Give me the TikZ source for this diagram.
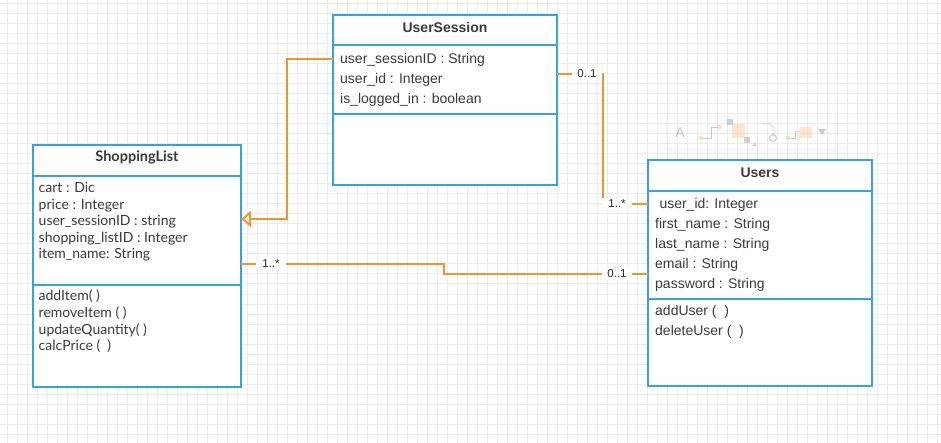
\documentclass[tikz,border=0pt]{standalone}
\usepackage{fontspec}
\setmainfont{Liberation Sans}
\newfontfamily\latof{Lato}
\usetikzlibrary{arrows.meta}
\definecolor{umlblue}{HTML}{36A2DF}
\definecolor{umlorange}{HTML}{F5922F}
\definecolor{txt}{HTML}{3A3A3A}
\definecolor{gridc}{HTML}{EBEBEB}
\tikzset{
  classbox/.style={draw=umlblue, line width=2pt, fill=white, rectangle, outer sep=0pt, inner sep=0pt, anchor=north west},
  sepline/.style={draw=umlblue, line width=2pt},
  ctitle/.style={font=\fontsize{14}{16}\selectfont\bfseries, text=txt, inner sep=0pt},
  ltitle/.style={font=\latof\fontsize{14.5}{16}\selectfont\bfseries, text=txt, inner sep=0pt},
  attr/.style={font=\fontsize{14}{16}\selectfont, text=txt, anchor=west, inner sep=0pt, text height=10pt, text depth=3pt},
  lattr/.style={font=\latof\fontsize{14}{16}\selectfont, text=txt, anchor=west, inner sep=0pt, text height=10pt, text depth=3pt},
  assoc/.style={draw=umlorange, line width=2pt},
  mult/.style={font=\fontsize{11.5}{12}\selectfont, text=black!85, fill=white, minimum width=30pt, inner sep=0pt, minimum height=12pt},
  faint/.style={opacity=0.5}
}
\begin{document}
\begin{tikzpicture}[x=1pt,y=-1pt]
\useasboundingbox (0,0) rectangle (941,443);
\fill[white] (0,0) rectangle (941,443);
% grid
\foreach \i in {0,...,93} \draw[gridc, line width=1pt] (7.3+10*\i,0) -- (7.3+10*\i,443);
\foreach \j in {0,...,43} \draw[gridc, line width=1pt] (0,4+10*\j) -- (941,4+10*\j);

% faint floating toolbar
\begin{scope}[faint]
  \draw[black!15, line width=0.8pt, rounded corners=2pt] (666,117) rectangle (836,150);
  \node[text=black!45, font=\fontsize{14}{16}\selectfont, inner sep=0pt] (tbA) at (680,133) {A};
  \fill[umlorange!60] (699,136.5) rectangle (703,140.5);
  \draw[black!40, line width=0.8pt] (703,138.5) -- (711,138.5) -- (711,127) -- (717,127);
  \fill[umlorange!60] (717,125) rectangle (721,129);
  \fill[black!35] (727,119) rectangle (733,125);
  \fill[umlorange!45] (731.7,124) rectangle (745,138.3);
  \fill[black!35] (744,137) rectangle (750,143);
  \fill[black!35] (752,146) -- (756,146) -- (756,142) -- cycle;
  \draw[black!30, line width=0.8pt] (762,124) -- (770,124) -- (774,128) -- (774,139);
  \draw[black!40, line width=1pt] (773,138) circle (3.5);
  \fill[umlorange!60] (786,136) rectangle (790,140);
  \draw[black!40, line width=0.8pt] (790,138) -- (795,138) -- (795,131) -- (799,131);
  \fill[umlorange!45] (799,126.7) rectangle (812,138);
  \fill[black!40] (818,129) -- (826,129) -- (822,135) -- cycle;
\end{scope}

% UserSession
\node[classbox, minimum width=224, minimum height=170] (us) at (333,15) {};
\draw[sepline] (us.west |- 0,45) -- (us.east |- 0,45);
\draw[sepline] (us.west |- 0,114) -- (us.east |- 0,114);
\node[ctitle] (ust) at (445,28) {UserSession};
\node[attr] (usa1) at (340,59.7) {user\_sessionID : String};
\node[attr] (usa2) at (340,79.7) {user\_id : Integer};
\node[attr] (usa3) at (340,99.7) {is\_logged\_in : boolean};

% ShoppingList
\node[classbox, minimum width=208, minimum height=241.5] (sl) at (33,145) {};
\draw[sepline] (sl.west |- 0,176) -- (sl.east |- 0,176);
\draw[sepline] (sl.west |- 0,285) -- (sl.east |- 0,285);
\node[ltitle] (slt) at (137,157) {ShoppingList};
\node[lattr] (sla1) at (38.5,189) {cart : Dic};
\node[lattr] (sla2) at (38.5,205.6) {price : Integer};
\node[lattr] (sla3) at (38.5,222.2) {user\_sessionID : string};
\node[lattr] (sla4) at (38.5,238.8) {shopping\_listID : Integer};
\node[lattr] (sla5) at (38.5,255.4) {item\_name: String};
\node[lattr] (slm1) at (38.5,297) {addItem( )};
\node[lattr] (slm2) at (38.5,313.6) {removeItem ( )};
\node[lattr] (slm3) at (38.5,330.6) {updateQuantity( )};
\node[lattr] (slm4) at (38.5,347.4) {calcPrice (\ \ )};

% Users
\node[classbox, minimum width=224, minimum height=226] (uu) at (648,160) {};
\draw[sepline] (uu.west |- 0,191) -- (uu.east |- 0,191);
\draw[sepline] (uu.west |- 0,299) -- (uu.east |- 0,299);
\node[ctitle] (uut) at (760,173) {Users};
\node[attr] (uua1) at (659.3,204.6) {user\_id: Integer};
\node[attr] (uua2) at (655,224.6) {first\_name : String};
\node[attr] (uua3) at (655,244.6) {last\_name : String};
\node[attr] (uua4) at (655,264.6) {email : String};
\node[attr] (uua5) at (655,284.6) {password : String};
\node[attr] (uum1) at (655,312) {addUser (\ \ )};
\node[attr] (uum2) at (655,332) {deleteUser (\ \ )};

% connectors
\draw[assoc, -{Triangle[open, fill=white, length=10pt, width=16pt]}]
  (us.west |- 0,59) -- (287,59) |- (sl.east |- 0,219);
\draw[assoc] (us.east |- 0,74) -| (603,204) -- (uu.west |- 0,204);
\draw[assoc] (sl.east |- 0,264) -| (444,274) -- (uu.west |- 0,274);

% multiplicities
\node[mult] (m1) at (587,74) {0..1};
\node[mult] (m2) at (617,204) {1..*};
\node[mult] (m3) at (271,264) {1..*};
\node[mult] (m4) at (617,274) {0..1};
\end{tikzpicture}
\end{document}
